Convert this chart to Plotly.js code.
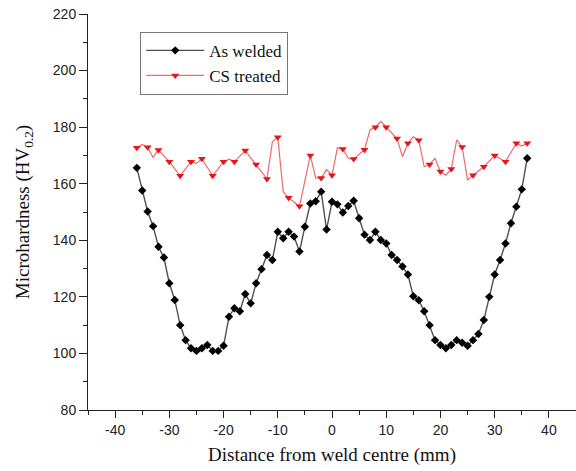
<!DOCTYPE html>
<html>
<head>
<meta charset="utf-8">
<script src="https://cdn.plot.ly/plotly-3.0.1.min.js"></script>
<style>html,body{margin:0;padding:0;background:#fff}#chart{width:576px;height:471px}</style>
</head>
<body>
<div id="chart"></div>
<script>
// As welded
const weldX = [-36,-35,-34,-33,-32,-31,-30,-29,-28,-27,-26,-25,-24,-23,-22,-21,-20,-19,-18,-17,-16,-15,-14,-13,-12,-11,-10,-9,-8,-7,-6,-5,-4,-3,-2,-1,0,1,2,3,4,5,6,7,8,9,10,11,12,13,14,15,16,17,18,19,20,21,22,23,24,25,26,27,28,29,30,31,32,33,34,35,36];
const weldY = [165.6,157.6,150.2,145.0,137.7,133.9,124.8,118.9,110.0,104.7,101.8,100.9,101.8,103.0,100.9,100.9,102.7,113.0,116.0,114.9,121.0,117.7,124.8,129.8,134.8,133.0,143.0,140.7,143.0,141.3,136.0,144.8,153.0,153.8,157.2,143.8,153.6,152.7,149.8,152.1,154.0,147.8,142.0,140.1,143.0,140.1,138.9,134.8,133.0,130.7,127.9,120.2,118.8,114.9,110.0,104.7,103.0,101.8,103.0,104.7,103.8,102.7,104.7,106.9,111.8,120.0,127.9,133.0,138.9,146.0,151.9,158.0,169.0];
// CS treated
const csX = [-36,-35,-34,-33,-32,-30,-28,-26,-25,-24,-22,-20,-19,-18,-16,-14,-12,-11,-10,-9,-8,-6,-4,-3,-2,-1,0,1,2,3,4,5,6,7,8,9,10,12,13,14,15,16,17,18,19,20,21,22,23,24,25,26,28,30,32,34,35,36];
const csY = [172.7,173.9,172.9,169.3,171.9,167.8,162.8,167.8,167.2,168.8,162.8,167.8,168.7,167.8,171.7,166.8,161.7,174.8,176.4,157.2,155.0,152.0,170.0,162.0,162.0,165.0,163.0,172.7,172.3,169.0,168.7,170.4,172.0,179.0,180.0,182.0,180.0,176.0,169.5,174.3,176.6,175.4,166.0,166.8,169.0,164.3,163.0,165.2,175.5,173.0,161.3,163.0,166.0,170.0,167.8,174.3,173.3,174.3];
const seriesNames = ["As welded", "CS treated"];
const xTicks = [-40,-30,-20,-10,0,10,20,30,40];
const yTicks = [80,100,120,140,160,180,200,220];

const csMarkerColors = csX.map(v => (v % 2 === 0) ? '#e8141c' : 'rgba(0,0,0,0)');

const traces = [
  {x: weldX, y: weldY, name: seriesNames[0], type: 'scatter', mode: 'lines+markers',
   line: {color: '#505050', width: 1.4},
   marker: {symbol: 'diamond', size: 6.5, color: '#000'}},
  {x: csX, y: csY, name: seriesNames[1], type: 'scatter', mode: 'lines+markers',
   line: {color: '#f06a6a', width: 1.2},
   marker: {symbol: 'triangle-down', size: 7, color: csMarkerColors}}
];

const tickFont = {family: 'Liberation Sans, Arial, sans-serif', size: 14, color: '#222'};
const titleFont = {family: 'Liberation Serif, Times New Roman, serif', size: 19, color: '#111'};

const layout = {
  width: 576, height: 471,
  margin: {l: 88, r: 0, t: 14, b: 61},
  paper_bgcolor: '#fff', plot_bgcolor: '#fff',
  showlegend: true,
  legend: {x: 0.107, y: 0.955, xanchor: 'left', yanchor: 'top',
           bordercolor: '#777', borderwidth: 1, bgcolor: '#fff',
           itemwidth: 58,
           font: {family: 'Liberation Serif, Times New Roman, serif', size: 17, color: '#111'},
           tracegroupgap: 0},
  xaxis: {range: [-45, 45], tickvals: xTicks, ticktext: xTicks.map(String),
          ticks: 'outside', ticklen: 7, tickwidth: 1, tickcolor: '#222',
          showline: true, linecolor: '#222', linewidth: 1, showgrid: false, zeroline: false,
          minor: {dtick: 5, ticks: 'outside', ticklen: 4, tickcolor: '#222', showgrid: false},
          tickfont: tickFont,
          title: {text: 'Distance from weld centre (mm)', font: titleFont, standoff: 10}},
  yaxis: {range: [80, 220], tickvals: yTicks, ticktext: yTicks.map(String),
          ticks: 'outside', ticklen: 8, tickwidth: 1, tickcolor: '#222',
          showline: true, linecolor: '#222', linewidth: 1, showgrid: false, zeroline: false,
          minor: {dtick: 10, ticks: 'outside', ticklen: 4, tickcolor: '#222', showgrid: false},
          tickfont: tickFont,
          title: {text: 'Microhardness (HV<sub>0.2</sub>)', font: titleFont, standoff: 18}}
};

Plotly.newPlot('chart', traces, layout, {displayModeBar: false, staticPlot: true});
</script>
</body>
</html>
